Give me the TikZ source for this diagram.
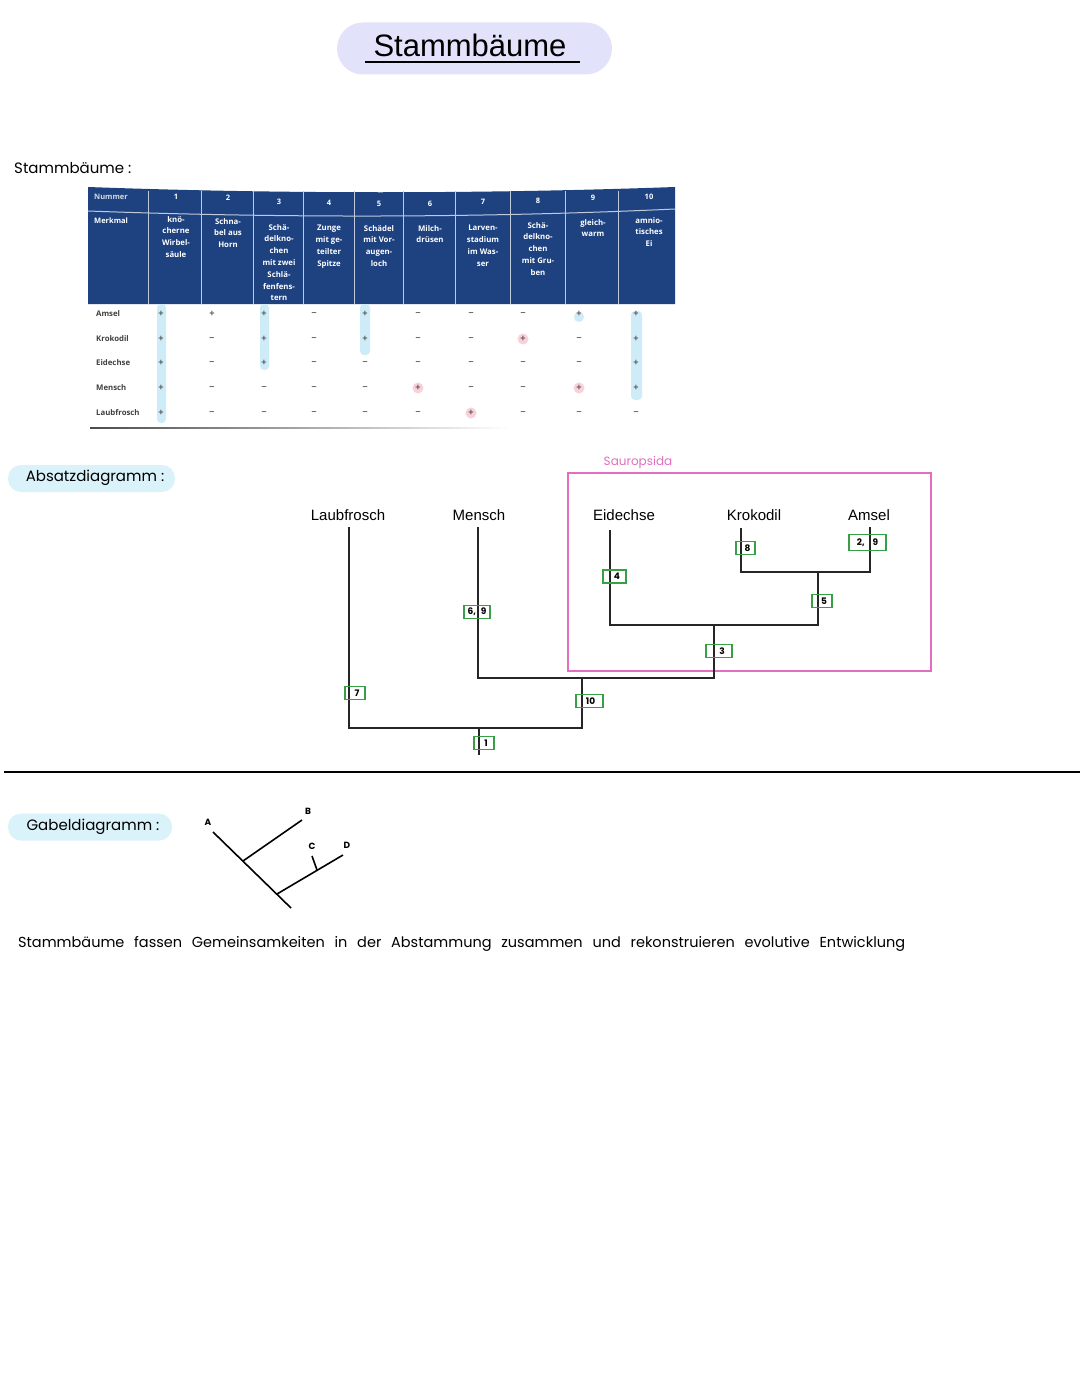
\documentclass[tikz,border=0pt]{standalone}
\usepackage{fontspec}
\setmainfont{Liberation Sans}
\newfontfamily\hand{Poppins}
\newfontfamily\tabf{Open Sans}
\definecolor{navy}{RGB}{30,66,128}
\definecolor{pillblue}{RGB}{218,242,250}
\definecolor{lav}{RGB}{226,226,250}
\definecolor{cladegreen}{RGB}{55,160,70}
\definecolor{sauro}{RGB}{225,110,190}
\definecolor{hilite}{RGB}{205,236,248}
\definecolor{redhl}{RGB}{250,208,218}
\newcommand\symbp{+}
\newcommand\symbm{–}
\newcommand\symbr{+}
\begin{document}
\begin{tikzpicture}[x=1pt,y=-1pt,
  taxon/.style={font=\fontsize{15}{18}\selectfont, inner sep=0pt},
  branch/.style={line width=1.3pt, black!85},
  apo/.style={draw=cladegreen, line width=1.1pt, minimum height=13pt, inner sep=0pt, font=\hand\bfseries\fontsize{9}{10}\selectfont},
  handlabel/.style={font=\hand\fontsize{15}{18}\selectfont, inner sep=0pt},
  pill/.style={fill=pillblue, rounded corners=13pt, inner sep=0pt},
  gabel/.style={line width=1.6pt, black},
  gabeltxt/.style={font=\hand\bfseries\fontsize{9}{9}\selectfont, inner sep=0pt},
  hdr/.style={font=\tabf\bfseries\fontsize{7.5}{7.5}\selectfont, text=white, inner sep=0pt},
  merk/.style={font=\tabf\bfseries\fontsize{7.8}{11.8}\selectfont, text=white, inner sep=0pt, align=center, anchor=north},
  rowlab/.style={font=\tabf\bfseries\fontsize{7.8}{7.8}\selectfont, text=black!75, inner sep=0pt, anchor=west},
  cell/.style={font=\bfseries\fontsize{9}{9}\selectfont, text=black!65, inner sep=0pt},
  cellp/.style={cell},
  cellm/.style={cell},
  cellr/.style={cell, circle, fill=redhl, minimum size=11pt},
  hline/.style={white!72!navy, line width=1pt}
]
\useasboundingbox (0,0) rectangle (1080,1394);
\fill[white] (0,0) rectangle (1080,1394);

% ---- title
\node[fill=lav, rounded corners=26pt, minimum width=275pt, minimum height=52pt, inner sep=0pt] (titlebg) at (474.5,48.5) {};
\node[font=\fontsize{31}{31}\selectfont, inner sep=0pt] (title) at (470,45) {Stammbäume};
\coordinate (ulL) at (365,62);
\coordinate (ulR) at (580,62);
\draw[line width=1.3pt] (ulL) -- (ulR);

% ---- section label
\node[handlabel, anchor=west] (secS) at (14,168) {Stammbäume :};

% ---- table header
\fill[navy] (88,187) .. controls (280,194) and (480,194) .. (675,187) -- (675,304) -- (88,304) -- cycle;
\draw[hline] (88,211) .. controls (280,218) and (480,218) .. (675,209);
\foreach \x in {148,201,253,303,354,403,455,510,565,618}
  \draw[hline] (\x,191) -- (\x,304);
\node[hdr, anchor=west, text=white!80!navy] (hnum) at (94,197) {Nummer};
\node[hdr, anchor=west] (hmerk) at (94,221) {Merkmal};
\foreach \n/\x/\y in {1/176/197, 2/228/198, 3/279/202, 4/329/203, 5/379/204, 6/430/204, 7/483/202, 8/538/201, 9/593/198, 10/649/197}
  \node[hdr] (h\n) at (\x,\y) {\n};
\node[merk] (m1) at (176,216) {knö-\\cherne\\Wirbel-\\säule};
\node[merk] (m2) at (228,218) {Schna-\\bel aus\\Horn};
\node[merk] (m3) at (279,224) {Schä-\\delkno-\\chen\\mit zwei\\Schlä-\\fenfens-\\tern};
\node[merk] (m4) at (329,225) {Zunge\\mit ge-\\teilter\\Spitze};
\node[merk] (m5) at (379,225) {Schädel\\mit Vor-\\augen-\\loch};
\node[merk] (m6) at (430,225) {Milch-\\drüsen};
\node[merk] (m7) at (483,225) {Larven-\\stadium\\im Was-\\ser};
\node[merk] (m8) at (538,222) {Schä-\\delkno-\\chen\\mit Gru-\\ben};
\node[merk] (m9) at (593,219) {gleich-\\warm};
\node[merk] (m10) at (649,217) {amnio-\\tisches\\Ei};

% ---- table body highlights
\fill[hilite, rounded corners=4pt] (157,304) rectangle (166,423);
\fill[hilite, rounded corners=4pt] (260,304) rectangle (269,370);
\fill[hilite, rounded corners=4pt] (360,304) rectangle (370,355);
\fill[hilite, rounded corners=4pt] (631,311) rectangle (642,400);
\fill[hilite] (579,317) circle (5pt);

% ---- table body
\foreach \rname/\ry/\vals in {
  Amsel/314/{p,p,p,m,p,m,m,m,p,p},
  Krokodil/339/{p,m,p,m,p,m,m,r,m,p},
  Eidechse/363/{p,m,p,m,m,m,m,m,m,p},
  Mensch/388/{p,m,m,m,m,r,m,m,r,p},
  Laubfrosch/413/{p,m,m,m,m,m,r,m,m,m}} {
  \node[rowlab] (r\rname) at (96,\ry) {\rname};
  \foreach \v [count=\c] in \vals {
    \pgfmathsetmacro\cx{{161,212,264,314,365,418,471,523,579,636}[\c-1]}
    \node[cell\v] (c\rname\c) at (\cx,\ry) {\csname symb\v\endcsname};
  }
}
\shade[left color=black!70, right color=white] (90,427.3) rectangle (510,428.7);

% ---- Absatzdiagramm
\node[pill, minimum width=167pt, minimum height=27pt] (absPill) at (91.5,478.5) {};
\node[handlabel] (absLab) at (95,478) {Absatzdiagramm :};

\node[draw=sauro, line width=1.3pt, minimum width=363pt, minimum height=198pt, inner sep=0pt] (sauroBox) at (749.5,572) {};
\node[font=\hand\fontsize{12}{12}\selectfont, text=sauro, inner sep=0pt] (sauroLab) at (638,462) {Sauropsida};

\node[taxon] (lf) at (348,515) {Laubfrosch};
\node[taxon] (me) at (479,515) {Mensch};
\node[taxon] (ei) at (624,515) {Eidechse};
\node[taxon] (kr) at (754,515) {Krokodil};
\node[taxon] (am) at (869,515) {Amsel};

\coordinate (lfTip) at (349,527);
\coordinate (meTip) at (478,527);
\coordinate (eiTip) at (610,530);
\coordinate (krTip) at (741,528);
\coordinate (amTip) at (870,527);
\coordinate (root) at (479,755);
\coordinate (jA) at (479,728);
\coordinate (jB) at (582,678);
\coordinate (jC) at (714,625);
\coordinate (jD) at (818,572);

\draw[branch] (lfTip) |- (jB |- jA) -- (jB);
\draw[branch] (meTip) |- (jC |- jB) -- (jC);
\draw[branch] (eiTip) |- (jD |- jC) -- (jD);
\draw[branch] (krTip) |- (amTip |- jD) -- (amTip);
\draw[branch] (jA) -- (root);

\node[apo, minimum width=20pt] (a7) at (355,693) {\hspace{4pt}7};
\node[apo, minimum width=26pt] (a69) at (477,612) {6,\hspace{5pt}9};
\node[apo, minimum width=23pt] (a4) at (614.5,576.5) {\hspace{5pt}4};
\node[apo, minimum width=19pt] (a8) at (745.5,548) {\hspace{4pt}8};
\node[apo, minimum width=37pt, minimum height=16pt] (a29) at (867.5,542.5) {2,\hspace{8pt}9};
\node[apo, minimum width=20pt] (a5) at (822,601) {\hspace{4pt}5};
\node[apo, minimum width=26pt] (a3) at (719,651) {\hspace{6pt}3};
\node[apo, minimum width=27pt] (a10) at (589.5,701) {\hspace{2pt}10};
\node[apo, minimum width=20pt] (a1) at (484,743) {\hspace{4pt}1};

% ---- separator
\coordinate (sepL) at (4,772);
\coordinate (sepR) at (1080,772);
\draw[line width=1.8pt] (sepL) -- (sepR);

% ---- Gabeldiagramm
\node[pill, minimum width=164pt, minimum height=27pt] (gabPill) at (90,827) {};
\node[handlabel] (gabLab) at (93,827) {Gabeldiagramm :};

\coordinate (gA) at (213,832);
\coordinate (gBase) at (291,908);
\coordinate (gB1) at (243,861);
\coordinate (gB) at (302,820);
\coordinate (gCD1) at (277,894);
\coordinate (gD) at (343,855);
\coordinate (gC1) at (317,870);
\coordinate (gC) at (312,856);
\draw[gabel] (gA) -- (gBase);
\draw[gabel] (gB1) -- (gB);
\draw[gabel] (gCD1) -- (gD);
\draw[gabel] (gC1) -- (gC);
\node[gabeltxt] (lA) at (208,822) {A};
\node[gabeltxt] (lB) at (308,811) {B};
\node[gabeltxt] (lC) at (312,846) {C};
\node[gabeltxt] (lD) at (347,845) {D};

% ---- conclusion
\node[font=\hand\fontsize{14.5}{16}\selectfont, inner sep=0pt, anchor=west] (concl) at (18,944)
  {\makebox[887pt][s]{Stammbäume fassen Gemeinsamkeiten in der Abstammung zusammen und rekonstruieren evolutive Entwicklung}};
\end{tikzpicture}
\end{document}
